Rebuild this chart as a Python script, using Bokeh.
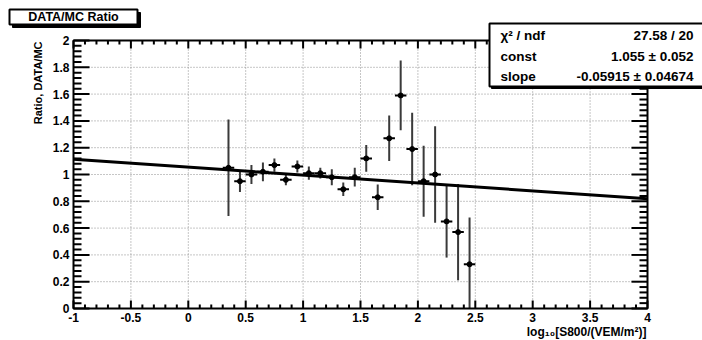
import math
import numpy as np
from bokeh.plotting import figure
from bokeh.models import Range1d, ColumnDataSource
from bokeh.core.properties import value
from bokeh.embed import file_html
from bokeh.resources import INLINE

# ---------------- data ----------------
bin_centers = [0.35, 0.45, 0.55, 0.65, 0.75, 0.85, 0.95, 1.05, 1.15, 1.25, 1.35,
               1.45, 1.55, 1.65, 1.75, 1.85, 1.95, 2.05, 2.15, 2.25, 2.35, 2.45]
ratio = [1.05, 0.95, 1.00, 1.02, 1.07, 0.96, 1.06, 1.01, 1.01, 0.98, 0.89,
         0.98, 1.12, 0.83, 1.27, 1.59, 1.19, 0.95, 1.00, 0.65, 0.57, 0.33]
ratio_err = [0.36, 0.08, 0.07, 0.07, 0.05, 0.04, 0.045, 0.05, 0.04, 0.06, 0.05,
             0.07, 0.10, 0.095, 0.17, 0.26, 0.27, 0.265, 0.36, 0.27, 0.36, 0.35]
bin_half_width = [0.05, 0.05, 0.05, 0.05, 0.05, 0.05, 0.05, 0.05, 0.05, 0.05, 0.05,
                  0.05, 0.05, 0.05, 0.05, 0.05, 0.05, 0.05, 0.05, 0.05, 0.05, 0.05]

fit_const, fit_const_err = 1.055, 0.052
fit_slope, fit_slope_err = -0.05915, 0.04674
fit_chi2, fit_ndf = 27.58, 20

X_MIN, X_MAX, X_MAJOR, X_MINOR = -1.0, 4.0, 0.5, 0.1
Y_MIN, Y_MAX, Y_MAJOR, Y_MINOR = 0.0, 2.0, 0.2, 0.04

title_text = "DATA/MC Ratio"
x_label = "log\u2081\u2080[S800/(VEM/m\u00b2)]"
y_label = "Ratio, DATA/MC"

# ---------------- layout (figure pixel coords) ----------------
W, H = 702, 340
FL, FR, FT, FB = 73, 647, 40, 308      # plot frame edges in pixels
SX = (X_MAX - X_MIN) / (FR - FL)        # data units per pixel
SY = (Y_MAX - Y_MIN) / (FB - FT)

def ux(px):
    return X_MIN + (px - FL) * SX

def uy(py):
    return Y_MIN + (FB - py) * SY

FONT = value("Liberation Sans")

p = figure(width=W, height=H,
           x_range=Range1d(ux(0), ux(W)), y_range=Range1d(uy(H), uy(0)),
           x_axis_location=None, y_axis_location=None,
           min_border=0, output_backend="svg", toolbar_location=None,
           background_fill_color="white", border_fill_color="white")
p.outline_line_color = None
p.grid.visible = False

def fmt(v):
    r = round(v, 2)
    return str(int(r)) if r == int(r) else ("%g" % r)

x_major = [round(v, 4) for v in np.arange(X_MIN, X_MAX + 1e-9, X_MAJOR)]
x_minor = [round(v, 4) for v in np.arange(X_MIN, X_MAX + 1e-9, X_MINOR)
           if min(abs(v - m) for m in x_major) > 1e-6]
y_major = [round(v, 4) for v in np.arange(Y_MIN, Y_MAX + 1e-9, Y_MAJOR)]
y_minor = [round(v, 4) for v in np.arange(Y_MIN, Y_MAX + 1e-9, Y_MINOR)
           if min(abs(v - m) for m in y_major) > 1e-6]

# ---------------- grid ----------------
gx = [v for v in x_major if X_MIN < v < X_MAX]
gy = [v for v in y_major if Y_MIN < v < Y_MAX]
p.segment(x0=gx, y0=[Y_MIN] * len(gx), x1=gx, y1=[Y_MAX] * len(gx),
          line_color="#8c8c8c", line_dash="1 2", line_width=1)
p.segment(x0=[X_MIN] * len(gy), y0=gy, x1=[X_MAX] * len(gy), y1=gy,
          line_color="#8c8c8c", line_dash="1 2", line_width=1)

# ---------------- data marks ----------------
src = ColumnDataSource(dict(
    x=bin_centers, y=ratio,
    ylo=[max(v - e, Y_MIN) for v, e in zip(ratio, ratio_err)],
    yhi=[min(v + e, Y_MAX) for v, e in zip(ratio, ratio_err)],
    xlo=[c - w for c, w in zip(bin_centers, bin_half_width)],
    xhi=[c + w for c, w in zip(bin_centers, bin_half_width)],
))
p.segment(x0="x", y0="ylo", x1="x", y1="yhi", source=src, line_color="#3a3a3a", line_width=2)
p.segment(x0="xlo", y0="y", x1="xhi", y1="y", source=src, line_color="black", line_width=2)
p.scatter(x="x", y="y", source=src, size=5, color="black")

fit_x = [X_MIN, X_MAX]
fit_y = [fit_const + fit_slope * v for v in fit_x]
p.line(fit_x, fit_y, line_color="black", line_width=3)

# ---------------- axes (ticks inward on all four sides) ----------------
def ticks_x(vals, length_px):
    n = len(vals)
    L = length_px * SY
    p.segment(x0=vals, y0=[Y_MIN] * n, x1=vals, y1=[Y_MIN + L] * n, line_color="black", line_width=2)
    p.segment(x0=vals, y0=[Y_MAX] * n, x1=vals, y1=[Y_MAX - L] * n, line_color="black", line_width=2)

def ticks_y(vals, length_px):
    n = len(vals)
    L = length_px * SX
    p.segment(x0=[X_MIN] * n, y0=vals, x1=[X_MIN + L] * n, y1=vals, line_color="black", line_width=2)
    p.segment(x0=[X_MAX] * n, y0=vals, x1=[X_MAX - L] * n, y1=vals, line_color="black", line_width=2)

ticks_x(x_major, 8)
ticks_x(x_minor, 4)
ticks_y(y_major, 16)
ticks_y(y_minor, 8)
p.quad(left=[X_MIN], right=[X_MAX], bottom=[Y_MIN], top=[Y_MAX],
       fill_alpha=0, line_color="black", line_width=2)

# tick labels
p.text(x=x_major, y=[uy(FB + 4)] * len(x_major), text=[fmt(v) for v in x_major],
       text_font=FONT, text_font_style="bold", text_font_size="12px",
       text_align="center", text_baseline="top", text_color="black")
p.text(x=[ux(FL - 4)] * len(y_major), y=y_major, text=[fmt(v) for v in y_major],
       text_font=FONT, text_font_style="bold", text_font_size="12px",
       text_align="right", text_baseline="middle", text_color="black")

# ---------------- annotations ----------------
def box(l, t, r, b, shadow=3):
    p.quad(left=[ux(l + shadow)], right=[ux(r + shadow)], top=[uy(t + shadow)],
           bottom=[uy(b + shadow)], fill_color="black", line_color="black")
    p.quad(left=[ux(l)], right=[ux(r)], top=[uy(t)], bottom=[uy(b)],
           fill_color="white", line_color="black", line_width=2)

def txt(s, px, py, align="left", size="12px", baseline="middle", angle=0.0):
    p.text(x=[ux(px)], y=[uy(py)], text=[s], text_font=FONT,
           text_font_style="bold", text_font_size=size,
           text_align=align, text_baseline=baseline, angle=angle,
           text_color="black")

# title box
box(9, 9, 137, 24, shadow=3)
txt(title_text, 73, 16.5, align="center", size="12.5px")

# stats box
box(489, 23, 710, 86, shadow=2)
stat_rows = [
    ("\u03c7\u00b2 / ndf", f"{fit_chi2:.2f} / {fit_ndf}"),
    ("const", f"{fit_const:.3f} \u00b1 {fit_const_err:.3f}"),
    ("slope", f"{fit_slope:.5f} \u00b1 {fit_slope_err:.5f}"),
]
row_y = [34.5, 55.5, 76]
for (lt, rt), ry in zip(stat_rows, row_y):
    txt(lt, 500, ry, align="left", size="13.5px")
    txt(rt, 693, ry, align="right", size="13.5px")

# axis titles
txt(y_label, 37, FT + 1, align="right", size="11px", angle=math.pi / 2)
txt(x_label, FR - 1, 331, align="right", size="12px", baseline="alphabetic")

open("out.html", "w").write(file_html(p, INLINE))
